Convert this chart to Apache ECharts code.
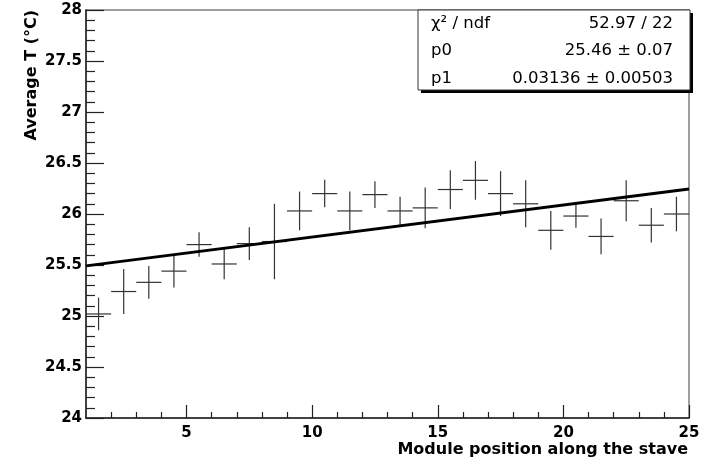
<!DOCTYPE html>
<html>
<head>
<meta charset="utf-8">
<script src="https://cdn.jsdelivr.net/npm/echarts@6/dist/echarts.min.js"></script>
<style>
  html, body { margin: 0; padding: 0; background: #fff; }
  #chart { width: 708px; height: 464px; }
</style>
</head>
<body>
<div id="chart"></div>
<script>
// Module positions (bin centres) along the stave
const modulePos = [1.5, 2.5, 3.5, 4.5, 5.5, 6.5, 7.5, 8.5, 9.5, 10.5, 11.5, 12.5,
                   13.5, 14.5, 15.5, 16.5, 17.5, 18.5, 19.5, 20.5, 21.5, 22.5, 23.5, 24.5];
// Average temperature per module (°C)
const avgTemp = [25.02, 25.24, 25.33, 25.44, 25.70, 25.51, 25.71, 25.73, 26.03, 26.20, 26.03, 26.19,
                 26.03, 26.06, 26.24, 26.33, 26.20, 26.10, 25.84, 25.98, 25.78, 26.13, 25.89, 26.00];
// Uncertainty on the average temperature (°C)
const tempErr = [0.16, 0.22, 0.16, 0.16, 0.12, 0.15, 0.16, 0.37, 0.19, 0.135, 0.19, 0.13,
                 0.14, 0.20, 0.19, 0.19, 0.22, 0.23, 0.19, 0.115, 0.175, 0.20, 0.17, 0.17];
const binHalfWidth = 0.5;

// Linear fit results: T = p0 + p1 * x
const fitP0 = 25.46, fitP0Err = 0.07;
const fitP1 = 0.03136, fitP1Err = 0.00503;
const chi2 = 52.97, ndf = 22;
const fitRange = [1, 25];

// Axis ranges and tick positions
const xRange = [1, 25];
const yRange = [24, 28];
const xMajorTicks = [5, 10, 15, 20, 25];
const xMinorTicks = [2, 3, 4, 6, 7, 8, 9, 11, 12, 13, 14, 16, 17, 18, 19, 21, 22, 23, 24];

const errData = modulePos.map((x, i) => [x, avgTemp[i], tempErr[i]]);
const fitData = fitRange.map(x => [x, fitP0 + fitP1 * x]);

const labelFont = { fontFamily: 'DejaVu Sans', fontWeight: 'bold', fontSize: 15, color: '#000' };
const statFont = 'normal 16.5px "DejaVu Sans"';
const titleFont = 'bold 16px "DejaVu Sans"';

const chart = echarts.init(document.getElementById('chart'), null, { renderer: 'canvas' });

chart.setOption({
  animation: false,
  backgroundColor: '#fff',
  grid: {
    left: 86, right: 19, top: 10, bottom: 46,
    show: true, borderColor: '#808080', borderWidth: 1.5, backgroundColor: 'transparent'
  },
  xAxis: [
    {
      type: 'value', min: xRange[0], max: xRange[1],
      axisLine: { show: true, onZero: false, lineStyle: { color: '#222', width: 1.5 } },
      axisTick: { show: true, inside: true, length: 13, customValues: xMajorTicks,
                  lineStyle: { color: '#222', width: 1.2 } },
      axisLabel: Object.assign({ margin: 8, customValues: xMajorTicks }, labelFont),
      splitLine: { show: false }
    },
    {
      type: 'value', min: xRange[0], max: xRange[1], position: 'bottom', gridIndex: 0,
      axisLine: { show: false },
      axisTick: { show: true, inside: true, length: 6, customValues: xMinorTicks,
                  lineStyle: { color: '#222', width: 1.2 } },
      axisLabel: { show: false },
      splitLine: { show: false }
    }
  ],
  yAxis: {
    type: 'value', min: yRange[0], max: yRange[1], interval: 0.5,
    axisLine: { show: true, onZero: false, lineStyle: { color: '#222', width: 1.5 } },
    axisTick: { show: true, inside: true, length: 18, lineStyle: { color: '#222', width: 1.2 } },
    minorTick: { show: true, splitNumber: 5, length: 9, lineStyle: { color: '#222', width: 1.2 } },
    axisLabel: Object.assign({ margin: 4 }, labelFont),
    splitLine: { show: false },
    minorSplitLine: { show: false }
  },
  series: [
    {
      name: 'data',
      type: 'custom',
      xAxisIndex: 0,
      clip: true,
      data: errData,
      renderItem: function (params, api) {
        const x = api.value(0), y = api.value(1), e = api.value(2);
        const l = api.coord([x - binHalfWidth, y]);
        const r = api.coord([x + binHalfWidth, y]);
        const t = api.coord([x, y + e]);
        const b = api.coord([x, y - e]);
        const style = { stroke: '#333', lineWidth: 1.2, fill: null };
        return {
          type: 'group',
          children: [
            { type: 'line', shape: { x1: l[0], y1: l[1], x2: r[0], y2: r[1] }, style: style },
            { type: 'line', shape: { x1: t[0], y1: t[1], x2: b[0], y2: b[1] }, style: style }
          ]
        };
      },
      z: 3
    },
    {
      name: 'fit',
      type: 'line',
      xAxisIndex: 0,
      data: fitData,
      showSymbol: false,
      symbol: 'none',
      lineStyle: { color: '#000', width: 3 },
      z: 4
    }
  ],
  graphic: [
    // axis titles
    {
      type: 'text', x: 32, y: 10, rotation: Math.PI / 2,
      style: { text: 'Average T (°C)', font: titleFont, fill: '#000',
               align: 'right', verticalAlign: 'middle' }
    },
    {
      type: 'text', x: 688, y: 450,
      style: { text: 'Module position along the stave', font: titleFont, fill: '#000',
               align: 'right', verticalAlign: 'middle' }
    },
    // fit statistics box
    {
      type: 'group', z: 10,
      children: [
        { type: 'rect', shape: { x: 421, y: 13, width: 272, height: 80 }, style: { fill: '#000' } },
        { type: 'rect', shape: { x: 418, y: 10, width: 272, height: 80 },
          style: { fill: '#fff', stroke: '#333', lineWidth: 1 } },
        { type: 'text', x: 431, y: 24,
          style: { text: 'χ² / ndf', font: statFont, fill: '#000', verticalAlign: 'middle' } },
        { type: 'text', x: 673, y: 24,
          style: { text: chi2.toFixed(2) + ' / ' + ndf, font: statFont, fill: '#000',
                   align: 'right', verticalAlign: 'middle' } },
        { type: 'text', x: 431, y: 51,
          style: { text: 'p0', font: statFont, fill: '#000', verticalAlign: 'middle' } },
        { type: 'text', x: 673, y: 51,
          style: { text: fitP0.toFixed(2) + ' ± ' + fitP0Err.toFixed(2), font: statFont, fill: '#000',
                   align: 'right', verticalAlign: 'middle' } },
        { type: 'text', x: 431, y: 79,
          style: { text: 'p1', font: statFont, fill: '#000', verticalAlign: 'middle' } },
        { type: 'text', x: 673, y: 79,
          style: { text: fitP1.toFixed(5) + ' ± ' + fitP1Err.toFixed(5), font: statFont, fill: '#000',
                   align: 'right', verticalAlign: 'middle' } }
      ]
    }
  ]
});
</script>
</body>
</html>
